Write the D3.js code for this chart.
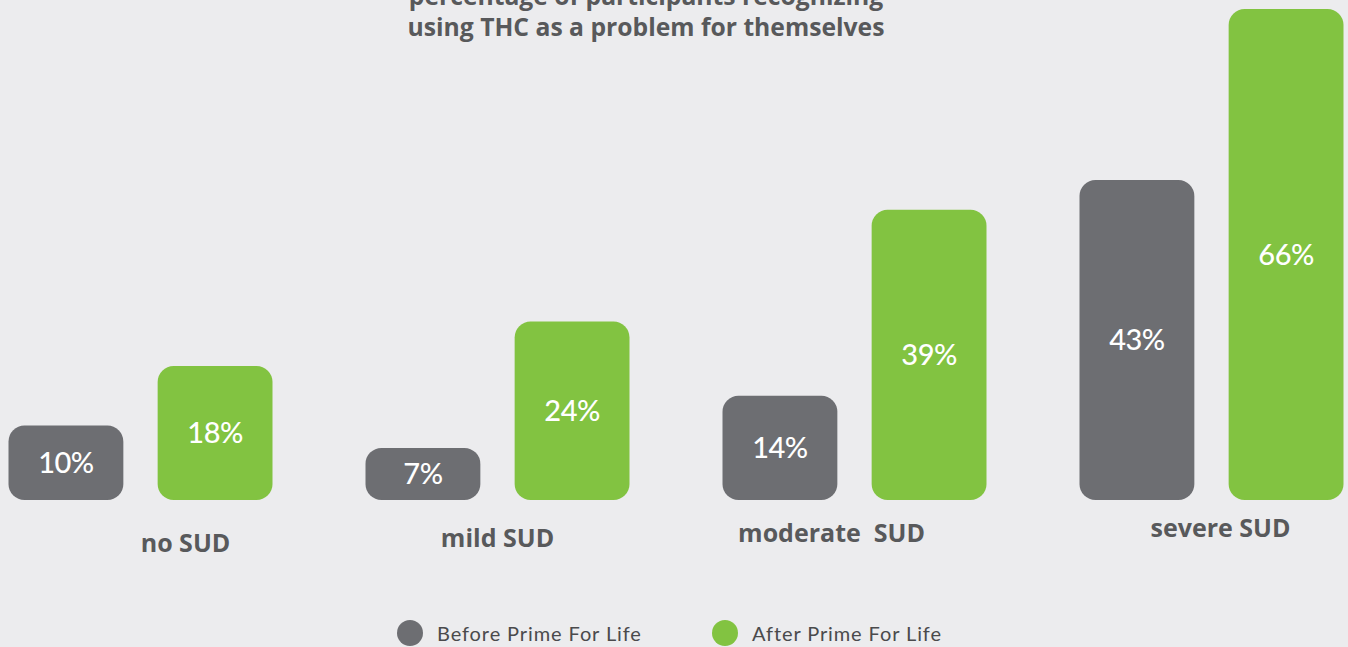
<!DOCTYPE html>
<html>
<head>
<meta charset="utf-8">
<script src="https://cdn.jsdelivr.net/npm/d3@7"></script>
<style>
  html, body { margin: 0; padding: 0; background: #ececee; overflow: hidden; }
  svg { display: block; }
</style>
</head>
<body>
<svg id="chart" width="1348" height="647"></svg>
<script>
// ---- data ----
const categories = ["no SUD", "mild SUD", "moderate  SUD", "severe SUD"];
const seriesNames = ["Before Prime For Life", "After Prime For Life"];
const beforeValues = [10, 7, 14, 43];
const afterValues = [18, 24, 39, 66];
const titleLines = ["percentage of participants recognizing", "using THC as a problem for themselves"];

// ---- layout ----
const W = 1348, H = 647;
const colors = ["#6d6e72", "#82c341"];
const textColor = "#58595b";
const baseline = 500;

const svg = d3.select("#chart");
svg.append("rect").attr("width", W).attr("height", H).attr("fill", "#ececee");

const x0 = d3.scaleBand().domain(categories).range([-38, 1390]).paddingInner(0).paddingOuter(0);
const x1 = d3.scaleBand().domain(seriesNames).range([-132, 132]).paddingInner(0.23).paddingOuter(0);
const y = d3.scaleLinear().domain([0, 66]).range([baseline, 9]);

const rows = categories.map((c, i) => ({ cat: c, i, vals: [beforeValues[i], afterValues[i]] }));

// title (top line cropped by the frame, as in the original)
svg.append("g").selectAll("text").data(titleLines).join("text")
  .attr("x", 646).attr("y", (d, i) => 5 + i * 31)
  .attr("text-anchor", "middle")
  .attr("font-family", "'Open Sans', sans-serif").attr("font-weight", 700)
  .attr("font-size", 24.7).attr("fill", textColor)
  .text(d => d);

const groups = svg.append("g").selectAll("g").data(rows).join("g")
  .attr("transform", d => `translate(${x0(d.cat) + x0.bandwidth() / 2},0)`);

const bars = groups.selectAll("g.bar").data(d => d.vals.map((v, k) => ({ v, k, s: seriesNames[k] })))
  .join("g").attr("class", "bar");

bars.append("rect")
  .attr("x", d => x1(d.s))
  .attr("y", d => y(d.v))
  .attr("width", x1.bandwidth())
  .attr("height", d => baseline - y(d.v))
  .attr("rx", 16).attr("ry", 16)
  .attr("fill", d => colors[d.k]);

bars.append("text")
  .attr("x", d => x1(d.s) + x1.bandwidth() / 2)
  .attr("y", d => (y(d.v) + baseline) / 2 + 10)
  .attr("text-anchor", "middle")
  .attr("font-family", "Lato, sans-serif").attr("font-weight", 500)
  .attr("font-size", 29).attr("letter-spacing", -0.5).attr("fill", "#ffffff")
  .text(d => d.v + "%");

// category labels (slightly staggered as in the original)
const labelDx = [45, 0, -23, 9];
groups.append("text")
  .attr("x", d => labelDx[d.i])
  .attr("y", d => 552 - d.i * 5)
  .attr("text-anchor", "middle")
  .attr("font-family", "'Open Sans', sans-serif").attr("font-weight", 700)
  .attr("font-size", 25).attr("fill", textColor)
  .style("white-space", "pre")
  .text(d => d.cat);

// legend
const legendX = [410, 725];
const lg = svg.append("g").selectAll("g").data(seriesNames).join("g")
  .attr("transform", (d, i) => `translate(${legendX[i]},633)`);
lg.append("circle").attr("r", 13).attr("fill", (d, i) => colors[i]);
lg.append("text").attr("x", 27).attr("y", 8)
  .attr("font-family", "Lato, sans-serif").attr("font-size", 20).attr("letter-spacing", 0.9)
  .attr("fill", "#4a4a4c")
  .text(d => d);
</script>
</body>
</html>
